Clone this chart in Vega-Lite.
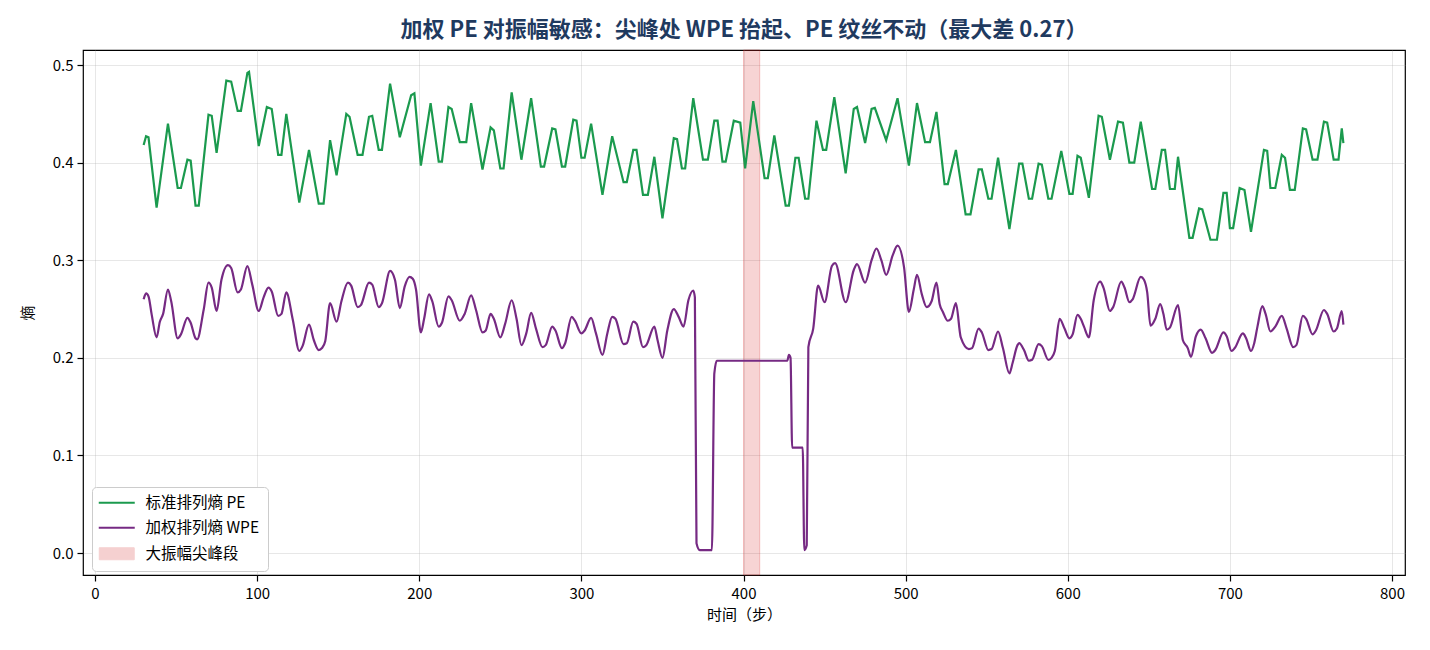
{
  "$schema": "https://vega.github.io/schema/vega-lite/v6.json",
  "width": 1322,
  "height": 525,
  "autosize": {"type": "none"},
  "padding": {"left": 83, "top": 50, "right": 25, "bottom": 75},
  "background": "white",
  "config": {
    "font": "Noto Sans CJK SC",
    "view": {"stroke": "#000000", "strokeWidth": 1.2},
    "axis": {
      "domain": false,
      "grid": true,
      "gridColor": "#b0b0b0",
      "gridOpacity": 0.3,
      "gridWidth": 1,
      "tickColor": "#000000",
      "tickSize": 6,
      "tickWidth": 1.2,
      "labelFont": "Noto Sans CJK SC",
      "labelFontSize": 15,
      "labelColor": "#000000",
      "titleFont": "Noto Sans CJK SC",
      "titleFontSize": 15,
      "titleFontWeight": "normal",
      "titleColor": "#000000"
    }
  },
  "title": {
    "text": "加权 PE 对振幅敏感：尖峰处 WPE 抬起、PE 纹丝不动（最大差 0.27）",
    "fontSize": 22,
    "fontWeight": "bold",
    "color": "#1f3a5f",
    "font": "Noto Sans CJK SC",
    "anchor": "middle",
    "offset": 8
  },
  "datasets": {
    "spike": [{"start": 400, "end": 410}],
    "pe": [
      {"t":30,"v":0.418},{"t":31.5,"v":0.427},{"t":33,"v":0.426},{"t":38,"v":0.354},{"t":45,"v":0.440},{"t":51,"v":0.374},{"t":53,"v":0.374},{"t":57,"v":0.403},{"t":59,"v":0.402},{"t":62,"v":0.356},{"t":64,"v":0.356},{"t":70,"v":0.449},{"t":72,"v":0.448},{"t":75,"v":0.410},{"t":81,"v":0.484},{"t":84,"v":0.483},{"t":88,"v":0.453},{"t":90,"v":0.453},{"t":94,"v":0.492},{"t":95,"v":0.493},{"t":101,"v":0.417},{"t":106,"v":0.457},{"t":109,"v":0.455},{"t":113,"v":0.408},{"t":115,"v":0.408},{"t":118,"v":0.450},{"t":126,"v":0.359},{"t":132,"v":0.413},{"t":138,"v":0.358},{"t":141,"v":0.358},{"t":145,"v":0.423},{"t":149,"v":0.387},{"t":155,"v":0.450},{"t":157,"v":0.447},{"t":162,"v":0.408},{"t":165,"v":0.408},{"t":169,"v":0.447},{"t":171,"v":0.448},{"t":175,"v":0.413},{"t":177,"v":0.413},{"t":182,"v":0.481},{"t":188,"v":0.426},{"t":195,"v":0.469},{"t":197,"v":0.471},{"t":201,"v":0.397},{"t":207,"v":0.461},{"t":212,"v":0.401},{"t":214,"v":0.401},{"t":218,"v":0.457},{"t":220,"v":0.455},{"t":225,"v":0.421},{"t":229,"v":0.421},{"t":232,"v":0.461},{"t":239,"v":0.393},{"t":244,"v":0.436},{"t":246,"v":0.433},{"t":250,"v":0.394},{"t":252,"v":0.394},{"t":257,"v":0.472},{"t":263,"v":0.403},{"t":269,"v":0.466},{"t":275,"v":0.396},{"t":277,"v":0.396},{"t":282,"v":0.435},{"t":284,"v":0.434},{"t":288,"v":0.396},{"t":290,"v":0.396},{"t":295,"v":0.444},{"t":297,"v":0.443},{"t":300,"v":0.405},{"t":302,"v":0.405},{"t":306,"v":0.440},{"t":313,"v":0.367},{"t":319,"v":0.427},{"t":326,"v":0.380},{"t":328,"v":0.380},{"t":332,"v":0.413},{"t":334,"v":0.413},{"t":338,"v":0.367},{"t":341,"v":0.367},{"t":345,"v":0.406},{"t":350,"v":0.343},{"t":357,"v":0.425},{"t":359,"v":0.424},{"t":362,"v":0.394},{"t":364,"v":0.394},{"t":369,"v":0.466},{"t":375,"v":0.403},{"t":378,"v":0.403},{"t":382,"v":0.443},{"t":384,"v":0.443},{"t":387,"v":0.401},{"t":389,"v":0.401},{"t":394,"v":0.443},{"t":398,"v":0.441},{"t":401,"v":0.394},{"t":406,"v":0.463},{"t":413,"v":0.384},{"t":415,"v":0.384},{"t":419,"v":0.428},{"t":426,"v":0.356},{"t":428,"v":0.356},{"t":432,"v":0.405},{"t":434,"v":0.405},{"t":438,"v":0.363},{"t":440,"v":0.363},{"t":445,"v":0.443},{"t":449,"v":0.413},{"t":451,"v":0.413},{"t":456,"v":0.467},{"t":463,"v":0.389},{"t":468,"v":0.455},{"t":470,"v":0.457},{"t":475,"v":0.420},{"t":479,"v":0.455},{"t":481,"v":0.456},{"t":488,"v":0.423},{"t":495,"v":0.466},{"t":502,"v":0.397},{"t":507,"v":0.461},{"t":512,"v":0.421},{"t":515,"v":0.421},{"t":519,"v":0.452},{"t":524,"v":0.378},{"t":526,"v":0.378},{"t":531,"v":0.413},{"t":537,"v":0.347},{"t":540,"v":0.347},{"t":545,"v":0.393},{"t":547,"v":0.393},{"t":551,"v":0.363},{"t":553,"v":0.363},{"t":557,"v":0.405},{"t":564,"v":0.332},{"t":570,"v":0.399},{"t":572,"v":0.399},{"t":576,"v":0.363},{"t":578,"v":0.363},{"t":582,"v":0.399},{"t":584,"v":0.398},{"t":588,"v":0.363},{"t":590,"v":0.363},{"t":596,"v":0.412},{"t":601,"v":0.368},{"t":603,"v":0.368},{"t":606,"v":0.407},{"t":608,"v":0.405},{"t":613,"v":0.364},{"t":619,"v":0.448},{"t":621,"v":0.447},{"t":626,"v":0.403},{"t":631,"v":0.442},{"t":634,"v":0.441},{"t":638,"v":0.400},{"t":641,"v":0.400},{"t":645,"v":0.442},{"t":652,"v":0.373},{"t":654,"v":0.373},{"t":658,"v":0.413},{"t":660,"v":0.413},{"t":663,"v":0.373},{"t":666,"v":0.373},{"t":668,"v":0.406},{"t":675,"v":0.323},{"t":677,"v":0.323},{"t":681,"v":0.353},{"t":683,"v":0.352},{"t":688,"v":0.321},{"t":692,"v":0.321},{"t":696,"v":0.369},{"t":698,"v":0.369},{"t":700,"v":0.333},{"t":702,"v":0.333},{"t":706,"v":0.374},{"t":709,"v":0.372},{"t":713,"v":0.329},{"t":721,"v":0.413},{"t":723,"v":0.412},{"t":725,"v":0.374},{"t":728,"v":0.374},{"t":732,"v":0.408},{"t":734,"v":0.405},{"t":737,"v":0.372},{"t":740,"v":0.372},{"t":745,"v":0.435},{"t":747,"v":0.434},{"t":751,"v":0.403},{"t":754,"v":0.403},{"t":758,"v":0.442},{"t":760,"v":0.441},{"t":764,"v":0.403},{"t":767,"v":0.403},{"t":769,"v":0.435},{"t":770,"v":0.420}
    ],
    "wpe": [
      {"t":30,"v":0.260},{"t":31.5,"v":0.266},{"t":33,"v":0.263},{"t":35,"v":0.244},{"t":38,"v":0.221},{"t":40,"v":0.237},{"t":42,"v":0.245},{"t":45,"v":0.270},{"t":47,"v":0.258},{"t":51,"v":0.220},{"t":53,"v":0.224},{"t":57,"v":0.241},{"t":59,"v":0.236},{"t":62,"v":0.220},{"t":63,"v":0.219},{"t":67,"v":0.249},{"t":70,"v":0.277},{"t":72,"v":0.272},{"t":75,"v":0.248},{"t":78,"v":0.280},{"t":82,"v":0.295},{"t":84,"v":0.292},{"t":88,"v":0.267},{"t":90,"v":0.270},{"t":94,"v":0.294},{"t":97,"v":0.275},{"t":101,"v":0.248},{"t":104,"v":0.262},{"t":107,"v":0.272},{"t":109,"v":0.268},{"t":113,"v":0.243},{"t":115,"v":0.245},{"t":118,"v":0.267},{"t":122,"v":0.239},{"t":126,"v":0.207},{"t":128,"v":0.212},{"t":132,"v":0.234},{"t":135,"v":0.218},{"t":138,"v":0.208},{"t":140,"v":0.210},{"t":142,"v":0.217},{"t":145,"v":0.256},{"t":149,"v":0.237},{"t":152,"v":0.258},{"t":156,"v":0.277},{"t":158,"v":0.274},{"t":162,"v":0.252},{"t":164,"v":0.254},{"t":169,"v":0.277},{"t":171,"v":0.275},{"t":175,"v":0.252},{"t":177,"v":0.256},{"t":182,"v":0.289},{"t":185,"v":0.280},{"t":188,"v":0.251},{"t":191,"v":0.273},{"t":194,"v":0.283},{"t":196,"v":0.281},{"t":198,"v":0.270},{"t":201,"v":0.226},{"t":203,"v":0.240},{"t":206,"v":0.265},{"t":208,"v":0.258},{"t":212,"v":0.232},{"t":214,"v":0.236},{"t":218,"v":0.263},{"t":220,"v":0.259},{"t":225,"v":0.238},{"t":228,"v":0.245},{"t":232,"v":0.264},{"t":235,"v":0.249},{"t":239,"v":0.226},{"t":241,"v":0.228},{"t":244,"v":0.245},{"t":246,"v":0.240},{"t":250,"v":0.221},{"t":253,"v":0.235},{"t":257,"v":0.259},{"t":260,"v":0.240},{"t":263,"v":0.213},{"t":266,"v":0.225},{"t":269,"v":0.246},{"t":272,"v":0.230},{"t":276,"v":0.211},{"t":278,"v":0.213},{"t":282,"v":0.232},{"t":284,"v":0.228},{"t":288,"v":0.210},{"t":290,"v":0.215},{"t":294,"v":0.242},{"t":296,"v":0.238},{"t":300,"v":0.225},{"t":302,"v":0.228},{"t":306,"v":0.241},{"t":309,"v":0.225},{"t":313,"v":0.203},{"t":316,"v":0.225},{"t":319,"v":0.242},{"t":321,"v":0.240},{"t":326,"v":0.214},{"t":328,"v":0.215},{"t":332,"v":0.237},{"t":334,"v":0.235},{"t":338,"v":0.211},{"t":340,"v":0.213},{"t":345,"v":0.232},{"t":347,"v":0.218},{"t":350,"v":0.200},{"t":353,"v":0.228},{"t":357,"v":0.250},{"t":360,"v":0.242},{"t":363,"v":0.232},{"t":366,"v":0.259},{"t":369,"v":0.269},{"t":370,"v":0.262},{"t":371,"v":0.010},{"t":373,"v":0.003},{"t":380.5,"v":0.003},{"t":382,"v":0.184},{"t":383.5,"v":0.197},{"t":427,"v":0.197},{"t":428,"v":0.203},{"t":429,"v":0.200},{"t":430,"v":0.108},{"t":436.5,"v":0.108},{"t":437.5,"v":0.003},{"t":439,"v":0.008},{"t":440,"v":0.211},{"t":443,"v":0.230},{"t":446,"v":0.274},{"t":450,"v":0.257},{"t":454.5,"v":0.294},{"t":456.5,"v":0.297},{"t":463,"v":0.257},{"t":468,"v":0.290},{"t":470,"v":0.296},{"t":475,"v":0.277},{"t":479,"v":0.300},{"t":482,"v":0.312},{"t":485,"v":0.300},{"t":488,"v":0.285},{"t":492,"v":0.305},{"t":495,"v":0.315},{"t":499,"v":0.293},{"t":502,"v":0.247},{"t":505,"v":0.270},{"t":507,"v":0.285},{"t":510,"v":0.265},{"t":513,"v":0.252},{"t":516,"v":0.258},{"t":519,"v":0.277},{"t":521,"v":0.255},{"t":523,"v":0.247},{"t":526,"v":0.238},{"t":528,"v":0.240},{"t":531,"v":0.256},{"t":534,"v":0.221},{"t":539,"v":0.209},{"t":541,"v":0.210},{"t":545,"v":0.230},{"t":547,"v":0.226},{"t":551,"v":0.208},{"t":553,"v":0.209},{"t":557,"v":0.227},{"t":560,"v":0.210},{"t":564,"v":0.184},{"t":566,"v":0.195},{"t":569,"v":0.213},{"t":570,"v":0.215},{"t":573,"v":0.208},{"t":576,"v":0.197},{"t":578,"v":0.198},{"t":582,"v":0.214},{"t":584,"v":0.212},{"t":588,"v":0.198},{"t":590,"v":0.200},{"t":592,"v":0.207},{"t":595,"v":0.240},{"t":598,"v":0.230},{"t":601,"v":0.220},{"t":603,"v":0.224},{"t":606,"v":0.244},{"t":608,"v":0.240},{"t":610,"v":0.232},{"t":613,"v":0.221},{"t":616,"v":0.259},{"t":620,"v":0.278},{"t":622,"v":0.272},{"t":626,"v":0.248},{"t":628,"v":0.252},{"t":633,"v":0.278},{"t":635,"v":0.272},{"t":638,"v":0.257},{"t":640,"v":0.260},{"t":645,"v":0.283},{"t":647,"v":0.280},{"t":649,"v":0.267},{"t":651,"v":0.233},{"t":654,"v":0.240},{"t":657,"v":0.255},{"t":659,"v":0.245},{"t":661,"v":0.229},{"t":663,"v":0.231},{"t":668,"v":0.254},{"t":671,"v":0.218},{"t":674,"v":0.210},{"t":676,"v":0.201},{"t":679,"v":0.222},{"t":682,"v":0.229},{"t":685,"v":0.220},{"t":689,"v":0.205},{"t":691,"v":0.208},{"t":696,"v":0.226},{"t":698,"v":0.222},{"t":701,"v":0.207},{"t":703,"v":0.210},{"t":708,"v":0.225},{"t":710,"v":0.220},{"t":713,"v":0.207},{"t":715,"v":0.215},{"t":717,"v":0.232},{"t":720,"v":0.253},{"t":722,"v":0.245},{"t":725,"v":0.227},{"t":728,"v":0.232},{"t":732,"v":0.243},{"t":735,"v":0.230},{"t":739,"v":0.211},{"t":741,"v":0.213},{"t":745,"v":0.243},{"t":747,"v":0.240},{"t":751,"v":0.224},{"t":753,"v":0.228},{"t":758,"v":0.249},{"t":760,"v":0.245},{"t":764,"v":0.227},{"t":766,"v":0.230},{"t":769,"v":0.248},{"t":770,"v":0.234}
    ]
  },
  "layer": [
    {
      "data": {"name": "spike"},
      "mark": {"type": "rect", "fill": "#d62728", "fillOpacity": 0.2, "stroke": "#d62728", "strokeOpacity": 0.25, "strokeWidth": 1},
      "encoding": {
        "x": {"field": "start", "type": "quantitative"},
        "x2": {"field": "end"},
        "color": {"datum": "大振幅尖峰段"}
      }
    },
    {
      "data": {"name": "pe"},
      "mark": {"type": "line", "strokeWidth": 2.2, "interpolate": "linear"},
      "encoding": {
        "x": {"field": "t", "type": "quantitative"},
        "y": {"field": "v", "type": "quantitative"},
        "color": {"datum": "标准排列熵 PE"}
      }
    },
    {
      "data": {"name": "wpe"},
      "mark": {"type": "line", "strokeWidth": 2.2, "interpolate": "monotone"},
      "encoding": {
        "x": {"field": "t", "type": "quantitative",
          "scale": {"domain": [-7.4, 808], "nice": false, "zero": false},
          "axis": {"title": "时间（步）", "values": [0,100,200,300,400,500,600,700,800], "labelPadding": 5, "titlePadding": 6}},
        "y": {"field": "v", "type": "quantitative",
          "scale": {"domain": [-0.0225, 0.5154], "nice": false, "zero": false},
          "axis": {"title": "熵", "values": [0,0.1,0.2,0.3,0.4,0.5], "format": ".1f", "labelPadding": 4, "titlePadding": 17, "titleAngle": -90}},
        "color": {
          "datum": "加权排列熵 WPE",
          "scale": {
            "domain": ["标准排列熵 PE", "加权排列熵 WPE", "大振幅尖峰段"],
            "range": ["#1b9a4e", "#762a83", "#f5d0d0"]
          },
          "legend": {
            "title": null,
            "orient": "none",
            "legendX": 9,
            "legendY": 437,
            "direction": "vertical",
            "fillColor": "#ffffff",
            "strokeColor": "#cccccc",
            "cornerRadius": 4,
            "padding": 8,
            "labelFont": "Noto Sans CJK SC",
            "labelFontSize": 15.5,
            "labelColor": "#000000",
            "labelOffset": 21,
            "rowPadding": 8,
            "symbolSize": 225,
            "symbolOffset": 9,
            "symbolType": "M-2.4,0H2.4",
            "symbolStrokeWidth": 2.2,
            "encode": {
              "symbols": {
                "update": {
                  "shape": {"signal": "datum.value == '大振幅尖峰段' ? 'M-2.33,-0.8H2.33V0.8H-2.33Z' : 'M-2.4,0H2.4'"},
                  "stroke": {"signal": "datum.value == '大振幅尖峰段' ? '#eaa3a2' : datum.value == '标准排列熵 PE' ? '#1b9a4e' : '#762a83'"},
                  "fill": {"signal": "datum.value == '大振幅尖峰段' ? '#f7d4d4' : 'transparent'"},
                  "strokeWidth": {"signal": "datum.value == '大振幅尖峰段' ? 1 : 2.2"},
                  "opacity": {"value": 1}
                }
              }
            }
          }
        }
      }
    }
  ]
}
